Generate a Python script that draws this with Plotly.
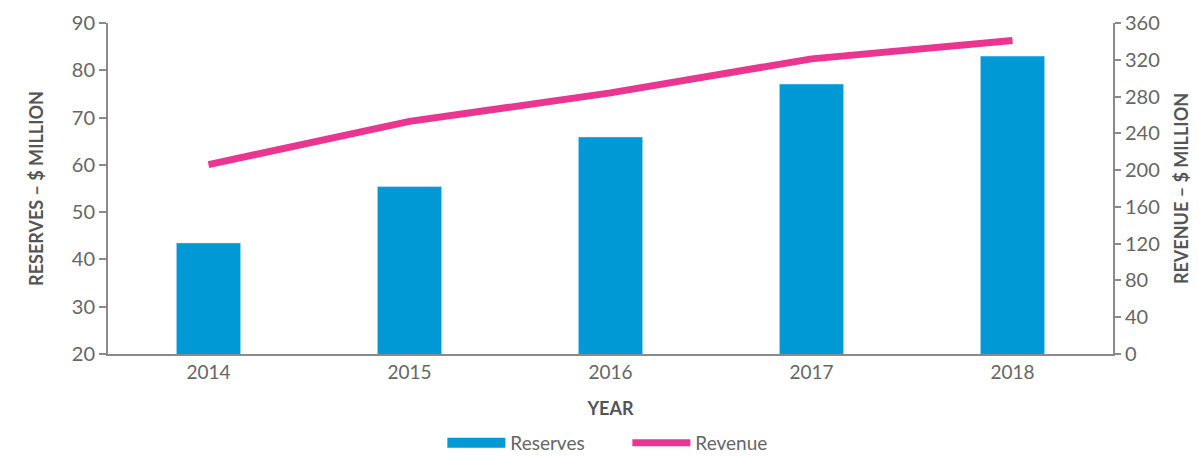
import plotly.graph_objects as go

years = ['2014', '2015', '2016', '2017', '2018']
reserves = [43.5, 55.4, 65.9, 77.1, 83.0]
revenue = [206, 253, 284, 321, 341]

grey = '#555555'
tick_grey = '#666666'
axis_grey = '#8a8a8a'
blue = '#0099D6'
pink = '#EA3690'
font_family = 'Lato, Open Sans, sans-serif'

fig = go.Figure()
fig.add_trace(go.Bar(
    x=years, y=reserves, name='Reserves',
    marker=dict(color=blue),
    width=0.32, showlegend=False,
))
# legend-only entry so the Reserves key is drawn as a wide block like the original
fig.add_trace(go.Scatter(
    x=[None], y=[None], name='Reserves', mode='lines',
    line=dict(color=blue, width=11),
))
fig.add_trace(go.Scatter(
    x=years, y=revenue, name='Revenue', yaxis='y2',
    mode='lines',
    line=dict(color=pink, width=7),
))

# the page body adds an 8px offset, so margins are shifted to compensate
fig.update_layout(
    width=1198, height=456,
    margin=dict(l=100, r=93, t=15, b=110),
    plot_bgcolor='white', paper_bgcolor='white',
    font=dict(family=font_family, color=grey, size=16),
    showlegend=True,
    legend=dict(orientation='h', x=0.517, xanchor='center', xref='container',
                y=0.046, yanchor='middle', yref='container',
                font=dict(size=19, color=tick_grey), itemwidth=58,
                entrywidth=112, entrywidthmode='pixels', traceorder='normal'),
    xaxis=dict(
        title=dict(text='<b>YEAR</b>', font=dict(size=18, color=grey), standoff=21),
        showline=True, linecolor=axis_grey, linewidth=2,
        ticks='', tickfont=dict(size=19, color=tick_grey), ticklabelstandoff=0,
        showgrid=False, automargin=False,
    ),
    yaxis=dict(
        title=dict(text='<b>RESERVES – $ MILLION</b>', font=dict(size=18, color=grey), standoff=23),
        range=[20, 90], dtick=10,
        showline=True, linecolor=axis_grey, linewidth=2,
        ticks='outside', ticklen=7, tickcolor=axis_grey, tickwidth=1.5,
        tickfont=dict(size=20, color=tick_grey),
        showgrid=False, zeroline=False, automargin=False,
    ),
    yaxis2=dict(
        title=dict(text='<b>REVENUE – $ MILLION</b>', font=dict(size=18, color=grey), standoff=17),
        overlaying='y', side='right',
        range=[0, 360], dtick=40,
        showline=True, linecolor=axis_grey, linewidth=2,
        ticks='outside', ticklen=6, tickcolor=axis_grey, tickwidth=1.5,
        tickfont=dict(size=20, color=tick_grey),
        showgrid=False, zeroline=False, automargin=False,
    ),
)

fig.write_html('out.html')
